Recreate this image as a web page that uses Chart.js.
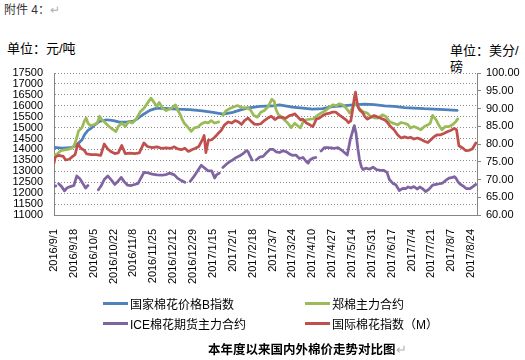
<!DOCTYPE html>
<html>
<head>
<meta charset="utf-8">
<script src="https://cdn.jsdelivr.net/npm/chart.js@4.4.0/dist/chart.umd.min.js"></script>
<style>
    body {
        margin: 0;
        width: 525px;
        height: 360px;
        background: #fff;
        position: relative;
        overflow: hidden;
        font-family: "Liberation Sans", "Noto Sans CJK SC", sans-serif;
        color: #000;
    }
    .txt { position: absolute; white-space: nowrap; line-height: 1; }
    .mark { color: #b0b0b0; font-weight: normal; }
    #chartBox { position: absolute; left: 0; top: 0; width: 525px; height: 295px; }
    #legend {
        position: absolute;
        left: 103px;
        top: 293px;
        display: grid;
        grid-template-columns: 202px 200px;
        grid-auto-rows: 20px;
        font-size: 12px;
    }
    #legend .item { display: flex; align-items: center; white-space: nowrap; }
    #legend .swatch { display: inline-block; width: 25px; height: 3px; margin-right: 2px; }
</style>
</head>
<body>

<div class="txt" style="left:4px;top:4px;font-size:12px;color:#333;">附件 4：<span class="mark">↵</span></div>
<div class="txt" style="left:7px;top:42px;font-size:13px;">单位：元/吨</div>
<div class="txt" style="left:450px;top:44px;font-size:13px;">单位：美分/</div>
<div class="txt" style="left:450px;top:60px;font-size:13px;">磅</div>

<div id="chartBox"><canvas id="cottonChart" width="525" height="295"></canvas></div>
<div id="legend"></div>

<div class="txt" style="left:208px;top:344px;font-size:12.5px;font-weight:bold;">本年度以来国内外棉价走势对比图<span class="mark">↵</span></div>

<script>
// x values are days counted from 2016/9/1
const tickLabels = ["2016/9/1", "2016/9/18", "2016/10/5", "2016/10/22", "2016/11/8", "2016/11/25",
    "2016/12/12", "2016/12/29", "2017/1/15", "2017/2/1", "2017/2/18", "2017/3/7", "2017/3/24",
    "2017/4/10", "2017/4/27", "2017/5/14", "2017/5/31", "2017/6/17", "2017/7/4", "2017/7/21",
    "2017/8/7", "2017/8/24"];
const tickStep = 17; // days between date labels

const leftTickValues = [11000, 11500, 12000, 12500, 13000, 13500, 14000, 14500, 15000, 15500,
    16000, 16500, 17000, 17500];
const rightTickValues = [60, 65, 70, 75, 80, 85, 90, 95, 100];

const seriesNames = ["国家棉花价格B指数", "郑棉主力合约", "ICE棉花期货主力合约", "国际棉花指数（M）"];

// 国家棉花价格B指数 (元/吨)
const cncDays = [
    0, 7, 14, 18, 21, 24, 26, 29, 32, 35,
    39, 45, 51, 56, 62, 68, 72, 76, 82, 88,
    95, 105, 116, 127, 136, 145, 153, 159, 165, 176,
    187, 193, 204, 213, 221, 230, 238, 247, 256, 266,
    274, 283, 291, 300, 308, 317, 325, 334, 345];
const cncValues = [
    14100, 14060, 14080, 14150, 14290, 14440, 14670, 14870, 14980, 15130,
    15280, 15360, 15320, 15250, 15250, 15300, 15430, 15590, 15790, 15890,
    15880, 15850, 15820, 15770, 15700, 15620, 15700, 15800, 15890, 15970,
    15990, 16040, 15940, 15890, 15850, 15870, 15960, 16000, 16040, 16080,
    16050, 16000, 15970, 15920, 15895, 15865, 15850, 15820, 15790];

// 郑棉主力合约 (元/吨)
const zceDays = [
    0, 3, 6, 9, 12, 15, 17, 19, 21, 24,
    26, 27.5, 29, 31, 34, 37, 39, 41, 44, 47,
    50, 53, 55, 58, 61, 64, 67, 70, 72, 74,
    77, 80, 83, 85, 88, 90, 93, 96, 99, 102,
    104, 106, 108, 109.5, 111.5, 114.5, 117.5, 120, 123, 126,
    129, 132, 134.5, 137.5, 141, 143, 144.5, 147, 150, 153,
    157, 160, 163, 165.5, 168.5, 171, 174, 177, 180, 183,
    186.5, 188.5, 190, 192, 194.5, 197, 200, 203, 206, 209,
    211, 213, 216, 219, 222, 225, 228, 231, 234, 236.5,
    239, 241.5, 244, 247, 250, 253, 256, 258.5, 261, 264,
    268, 271, 274, 277, 281, 284, 287, 290, 294, 297,
    300, 303, 305, 308, 311, 314, 317, 320, 322, 324,
    327, 330, 332, 335, 338, 341, 344, 345.5];
const zceValues = [
    13750, 13800, 13950, 13980, 14000, 14060, 14150, 14450, 14850, 15000,
    15300, 15440, 15210, 15090, 15130, 15210, 15520, 15360, 15210, 15050,
    14930, 14820, 15050, 15210, 15050, 15280, 15210, 15360, 15550, 15740,
    15890, 16120, 16350, 16200, 15970, 16150, 15890, 15780, 15850, 15950,
    16040, 15780, 15600, 15400, 15200, 15020, 14830, 14990, 15020, 15170,
    15250, 15220, 15320, 15210, 15260, null, 15560, 15760, 15860, 15930,
    16010, 15930, 15900, 15920, 15780, 15550, 15480, 15700, 15780, 15940,
    16300, 16200, 15820, 15600, 15480, 15360, 15210, 15000, 15200, 15060,
    14990, 15250, 15360, 15390, 15400, 15540, 15650, 15740, 15850, 15968,
    16046, 16000, 16092, 16046, 15895, 15665, 15968, 16124, 15895, 15740,
    15665, 15510, 15450, 15436, 15587, 15510, 15280, 15207, 15128, 15234,
    15200, 15128, 14977, 15050, 14980, 14900, 15050, 15128, 15207, 15560,
    15358, 15050, 14899, 15050, 15050, 15128, 15280, 15400];

// ICE棉花期货主力合约 (美分/磅), null = no quote
const iceDays = [
    0, 1.5, 2.5, 4, 6.5, 9, 11, 14, 17, 19.5,
    22, 25, 27, 29, 33, 38, 40.5, 43, 46, 49,
    52, 55, 57.5, 60, 63, 66, 69, 72, 74.5, 77,
    80, 84, 88, 92, 96, 99, 103, 106, 109, 112,
    114, 116.5, 119, 122, 126, 129, 132, 135, 137.5, 139,
    141.5, 143, 144.5, 147.5, 150.5, 153, 156, 159, 161.5, 164.5,
    166, 167.5, 169.5, 171.5, 173, 176, 179, 182, 185, 187.5,
    190, 193, 196, 199, 201.5, 204, 207, 210, 213, 216,
    217.5, 219, 221.5, 224, 226, 228.5, 231.5, 234, 237, 240,
    243, 246, 248.5, 251, 253.5, 255.5, 257, 258.5, 260, 261.5,
    263, 264.5, 267, 270, 273, 276, 279, 282, 285, 287,
    290, 292.5, 295.5, 298.5, 301, 303, 305.5, 308, 311, 313,
    315.5, 318, 321, 324, 327, 330, 332.5, 335.5, 338, 341,
    342.5, 344, 346, 348, 350, 353, 356, 358.5, 361];
const iceValues = [
    68.0, 68.2, null, 68.8, 68.0, 66.8, 67.6, 68.0, 68.3, 71.0,
    70.3, 68.7, 67.6, 68.3, null, 67.1, 68.3, 70.0, 71.0, 69.9,
    68.6, 69.6, 70.6, 69.4, 68.4, 68.3, 68.6, 68.9, 70.5, 72.0,
    71.9, 71.5, 71.3, 71.2, 71.4, 71.8, 71.3, 70.3, 69.7, 69.2,
    null, 69.5, 70.5, 72.0, 74.0, 73.2, 72.4, 72.4, 70.4, 71.3,
    71.8, null, 73.4, 74.3, 75.1, 75.5, 76.2, 76.7, 77.2, 78.1,
    77.9, 76.8, 75.5, null, 75.5, 76.3, 76.5, 77.6, 78.5, 78.5,
    77.8, 77.6, 78.1, 77.8, 77.2, 76.8, 76.9, 75.9, 76.2, 75.0,
    74.6, 75.5, 76.0, 76.2, null, 78.0, 79.0, 79.0, 78.9, 78.8,
    79.0, 78.3, 77.6, 76.9, 81.2, 83.5, 85.2, 83.0, 78.8, 75.5,
    73.6, 72.8, 73.2, 72.9, 73.5, 72.8, 72.6, 72.6, 72.0, 70.0,
    68.9, 68.5, 66.9, 67.5, 67.4, 67.9, 67.6, 68.0, 67.3, 67.9,
    67.4, 66.6, 67.3, 68.4, 68.6, 68.8, 69.0, 69.8, 70.4, 70.6,
    70.8, 70.4, 69.2, 68.6, 68.2, 67.4, 67.4, 68.0, 68.6];

// 国际棉花指数（M） (美分/磅)
const mIndexDays = [
    0, 1, 4, 8, 10, 13, 16, 18, 20.5, 23,
    26, 28, 32, 36, 40, 43, 46, 49, 52, 55,
    58, 61, 65, 69, 73, 77, 80, 84, 88, 92,
    96, 100, 103, 106, 109, 112, 115, 118, 121, 124,
    127, 128.5, 130, 132, 135, 137.5, 140, 143, 146, 149,
    152, 155, 158, 160.5, 163, 166, 169, 171.5, 174.5, 177,
    180, 183, 186, 189, 192, 195, 198, 201.5, 204, 206,
    209, 211, 213, 216, 219, 221.5, 223, 224.5, 227, 230,
    233, 236, 238.5, 241, 244, 247, 250, 252, 254, 255.5,
    257, 258, 259, 260, 261.5, 264, 266, 268, 271, 274,
    277, 280, 283, 285.5, 288, 291, 294, 297, 300, 303,
    305, 308, 311, 314, 317, 320, 322.5, 325, 328, 331,
    334, 337, 340, 342.5, 344.5, 346.5, 350, 352.5, 355, 358,
    361];
const mIndexValues = [
    74.6, 76.3, 76.8, 76.5, 75.5, 75.7, 76.5, 77.0, 80.1, 78.8,
    78.2, 77.2, 77.0, 77.0, 76.8, 80.0, 78.6, 77.8, 77.3, 77.5,
    79.6, 77.3, 77.4, 77.3, 77.5, 80.3, 79.3, 79.0, 79.2, 78.8,
    78.9, 78.8, 79.2, 78.6, 78.4, 78.8, 77.9, 78.4, 78.8, 79.3,
    81.2, 82.4, 77.6, 81.0, 81.2, 81.9, 82.8, 83.8, 85.4, 86.2,
    85.9, 86.6, 86.2, 85.5, 86.6, 87.3, 86.3, 85.6, 85.5, 85.7,
    86.6, 87.3, 87.8, 86.9, 87.5, 87.6, 87.2, 88.0, 88.2, 88.5,
    87.5, 86.8, 87.0, 85.9, 85.4, 84.9, 85.9, 87.0, 87.3, 88.0,
    88.5, 88.7, 89.0, 89.0, 88.2, 87.5, 86.8, 86.0, 86.5, 89.5,
    93.0, 94.6, 92.5, 90.6, 89.6, 88.9, 87.7, 87.0, 87.5, 88.0,
    87.6, 87.2, 86.8, 86.0, 84.9, 84.0, 82.6, 81.7, 82.0, 81.7,
    81.9, 81.4, 81.7, 81.3, 80.8, 80.4, 81.2, 82.0, 82.6, 82.6,
    83.0, 83.5, 83.9, 84.4, 84.0, 79.5, 78.8, 78.1, 78.2, 78.6,
    80.3];

function toPoints(days, values) {
    return days.map((d, i) => ({ x: d, y: values[i] }));
}

Chart.defaults.font.family = '"Liberation Sans", "Noto Sans CJK SC", sans-serif';
Chart.defaults.font.size = 11;
Chart.defaults.color = "#000";

const axisColor = "#868686";

const ctx = document.getElementById("cottonChart").getContext("2d");

const chart = new Chart(ctx, {
    type: "line",
    data: {
        datasets: [
            { label: seriesNames[0], data: toPoints(cncDays, cncValues), borderColor: "#4f81bd", yAxisID: "y", order: 4 },
            { label: seriesNames[1], data: toPoints(zceDays, zceValues), borderColor: "#9bbb59", yAxisID: "y", order: 3 },
            { label: seriesNames[2], data: toPoints(iceDays, iceValues), borderColor: "#8064a2", yAxisID: "y1", order: 2 },
            { label: seriesNames[3], data: toPoints(mIndexDays, mIndexValues), borderColor: "#c0504d", yAxisID: "y1", order: 1 }
        ]
    },
    options: {
        responsive: false,
        animation: false,
        layout: { padding: { top: 73, left: 0, right: 0, bottom: 0 } },
        elements: {
            point: { radius: 0 },
            line: { borderWidth: 2.75, tension: 0, borderJoinStyle: "round", borderCapStyle: "round" }
        },
        plugins: {
            legend: { display: false },
            tooltip: { enabled: false }
        },
        scales: {
            x: {
                type: "linear",
                min: 0,
                max: 362,
                afterBuildTicks: scale => {
                    scale.ticks = tickLabels.map((_, i) => ({ value: i * tickStep }));
                },
                afterFit: scale => { scale.height = 80; },
                ticks: {
                    autoSkip: false,
                    minRotation: 90,
                    maxRotation: 90,
                    padding: 6,
                    callback: (value, index) => tickLabels[index]
                },
                grid: { display: false },
                border: { color: axisColor }
            },
            y: {
                position: "left",
                min: leftTickValues[0],
                max: leftTickValues[leftTickValues.length - 1],
                afterBuildTicks: scale => {
                    scale.ticks = leftTickValues.map(v => ({ value: v }));
                },
                afterFit: scale => { scale.width = 54; },
                ticks: { autoSkip: false, padding: 11, callback: v => String(v) },
                grid: { color: "#8a8a8a", drawTicks: false },
                border: { color: axisColor, dash: [1, 2] }
            },
            y1: {
                position: "right",
                min: rightTickValues[0],
                max: rightTickValues[rightTickValues.length - 1],
                afterBuildTicks: scale => {
                    scale.ticks = rightTickValues.map(v => ({ value: v }));
                },
                afterFit: scale => { scale.width = 48; },
                ticks: { autoSkip: false, padding: 5, callback: v => v.toFixed(2) },
                grid: { drawOnChartArea: false, drawTicks: true, tickLength: 4, color: axisColor },
                border: { color: axisColor }
            }
        }
    }
});

// legend below the chart, two columns like the original
const legendBox = document.getElementById("legend");
chart.data.datasets.forEach(ds => {
    const item = document.createElement("div");
    item.className = "item";
    item.innerHTML = '<span class="swatch" style="background:' + ds.borderColor + '"></span><span>' + ds.label + '</span>';
    legendBox.appendChild(item);
});
</script>
</body>
</html>
